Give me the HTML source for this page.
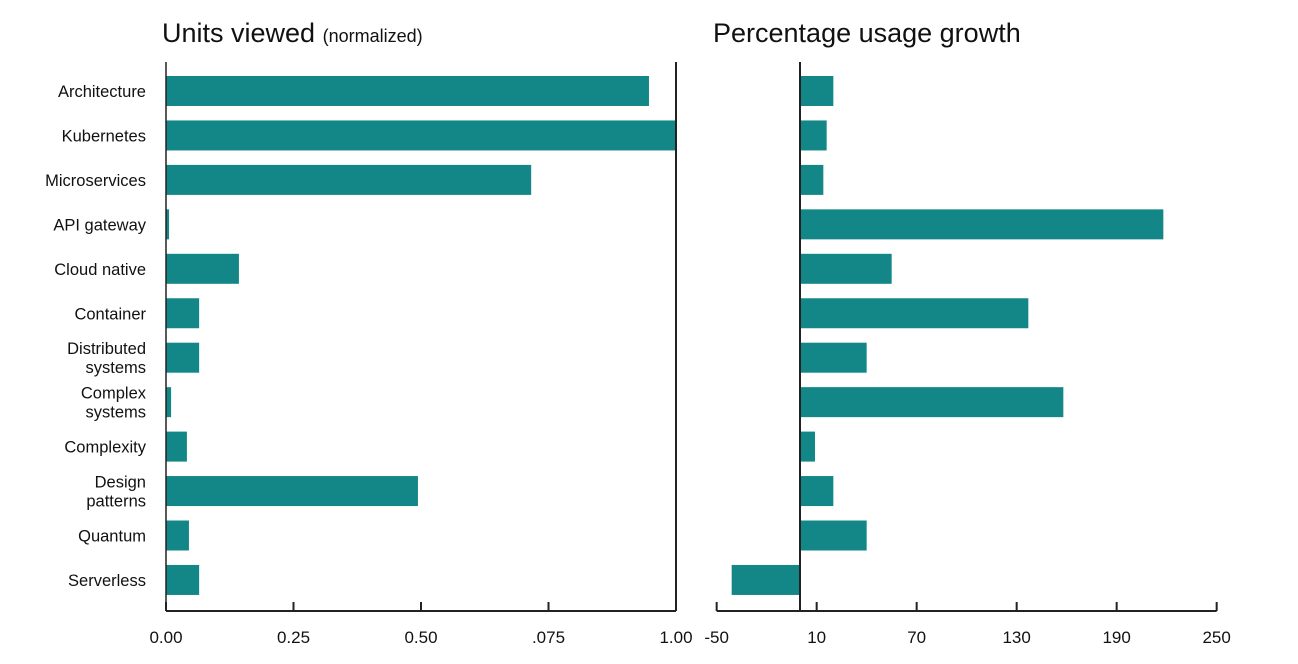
<!DOCTYPE html>
<html><head><meta charset="utf-8"><style>
body{margin:0;background:#fff;}
svg text{font-family:"Liberation Sans",sans-serif;fill:#111;}
</style></head><body>
<svg width="1298" height="659">
<text x="162" y="42" font-size="27">Units viewed <tspan font-size="18">(normalized)</tspan></text>
<text x="713" y="42" font-size="27">Percentage usage growth</text>
<g id="labels"></g><g id="left"></g><g id="right"></g>
</svg>
<script>
const categories=[["Architecture"],["Kubernetes"],["Microservices"],["API gateway"],["Cloud native"],["Container"],["Distributed","systems"],["Complex","systems"],["Complexity"],["Design","patterns"],["Quantum"],["Serverless"]];
const unitsViewed=[0.947,1.0,0.716,0.006,0.143,0.065,0.065,0.01,0.041,0.494,0.045,0.065];
const growth=[20,16,14,218,55,137,40,158,9,20,40,-41];
const leftTicks=[0,0.25,0.5,0.75,1.0];
const leftTickLabels=["0.00","0.25","0.50",".075","1.00"];
const rightTicks=[-50,10,70,130,190,250];
const NS="http://www.w3.org/2000/svg";
function mk(p,t,a){const e=document.createElementNS(NS,t);for(const k in a)e.setAttribute(k,a[k]);p.appendChild(e);return e;}
const yC=i=>91+i*44.45, BH=30, axisY=611;
const xL=v=>166+v*510;
const xR=v=>800+(v)*(500/300);
const L=document.getElementById('left'),R=document.getElementById('right'),G=document.getElementById('labels');
categories.forEach((c,i)=>{
  const t=mk(G,'text',{x:146,y:0,'text-anchor':'end','font-size':'16.5'});
  
  
  c.forEach((line,j)=>{const s=mk(t,'tspan',{x:146,y:yC(i)+6+(j-(c.length-1)/2)*19});s.textContent=line;});
  const b=mk(L,'rect',{x:xL(0),y:yC(i)-BH/2,width:xL(unitsViewed[i])-xL(0),height:BH,fill:'#138787'});
  
  
  const g=growth[i];
  const r=mk(R,'rect',{x:Math.min(xR(0),xR(g)),y:yC(i)-BH/2,width:Math.abs(xR(g)-xR(0)),height:BH,fill:'#138787'});
  
  
});
const st={stroke:'#222','stroke-width':2,fill:'none'};
mk(L,'line',Object.assign({x1:166,y1:62,x2:166,y2:axisY},st,{'stroke-width':1.5}));
mk(L,'line',Object.assign({x1:xL(1),y1:62,x2:xL(1),y2:axisY},st));
mk(L,'line',Object.assign({x1:166,y1:axisY,x2:xL(1),y2:axisY},st));
leftTicks.forEach((v,i)=>{
  mk(L,'line',Object.assign({x1:xL(v),y1:axisY-9,x2:xL(v),y2:axisY},st));
  const t=mk(L,'text',{x:xL(v),y:643,'text-anchor':'middle','font-size':'17'});t.textContent=leftTickLabels[i];
  
  
});
mk(R,'line',Object.assign({x1:xR(-50),y1:axisY,x2:xR(250),y2:axisY},st));
mk(R,'line',Object.assign({x1:xR(0),y1:62,x2:xR(0),y2:axisY+1},st));
rightTicks.forEach(v=>{
  mk(R,'line',Object.assign({x1:xR(v),y1:axisY-9,x2:xR(v),y2:axisY},st));
  const t=mk(R,'text',{x:xR(v),y:643,'text-anchor':'middle','font-size':'17'});t.textContent=String(v);
  
  
});
</script>
</body></html>
